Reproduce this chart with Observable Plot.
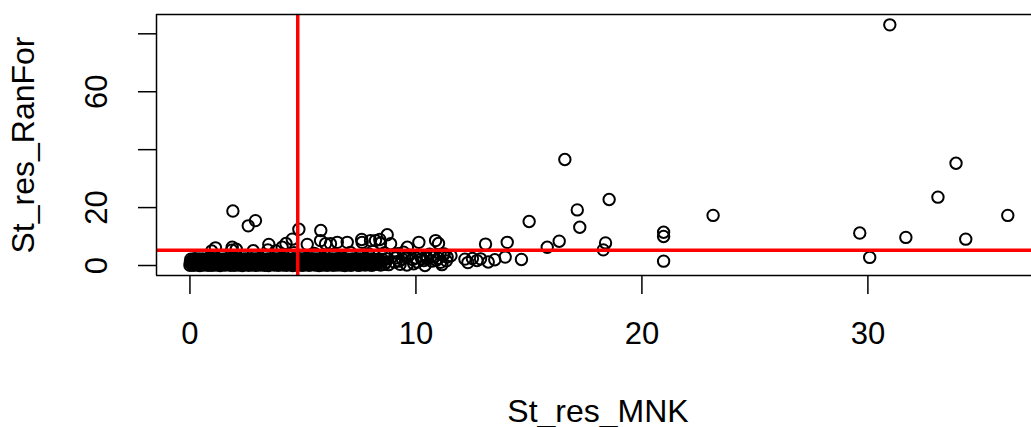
<!DOCTYPE html>
<html><head><meta charset="utf-8">
<script src="https://cdn.jsdelivr.net/npm/d3@7"></script>
<script src="https://cdn.jsdelivr.net/npm/@observablehq/plot@0.6"></script>
<style>html,body{margin:0;padding:0;background:#fff}svg{display:block}</style>
</head><body><div id="chart"></div>
<script>
const xTitle = "St_res_MNK";
const yTitle = "St_res_RanFor";
const xTicks = [0, 10, 20, 30];
const yTicks = [0, 20, 40, 60, 80];
const yTickLabels = [0, 20, 60];
const vLine = [4.77];
const hLine = [5.25];
const xDomain = [-1.48, 37.24];
const yDomain = [-3.45, 86.67];

// dense band of points near the origin (lower row)
const bandLowMNK = [
  0.00,0.08,0.17,0.25,0.36,0.44,0.53,0.61,0.72,0.80,
  0.89,0.98,1.07,1.15,1.26,1.34,1.43,1.52,1.61,1.70,
  1.79,1.88,1.96,2.05,2.15,2.23,2.32,2.41,2.50,2.59,
  2.68,2.77,2.86,2.94,3.04,3.12,3.21,3.30,3.39,3.48,
  3.57,3.66,3.75,3.84,3.92,4.02,4.11,4.19,4.28,4.37,
  4.46,4.55,4.64,4.73,4.82,4.90,5.00,5.09,5.17,5.26,
  5.35,5.44,5.53,5.62,5.71,5.80,5.88,5.97,6.06,6.15,
  6.24,6.33,6.42,6.51,6.60,6.69,6.77,6.86,6.95,7.04,
  7.13,7.22,7.31,7.40,7.49,7.58,7.67,7.75,7.84,7.93,
  8.05,8.16,8.30,8.44,8.61,8.79];
const bandLowRanFor = [
  0.10,0.30,0.05,0.40,0.20,0.00,0.35,0.15,0.50,0.10,
  0.25,0.05,0.45,0.20,0.30,0.00,0.40,0.15,0.25,0.50,
  0.10,0.35,0.05,0.30,0.20,0.45,0.00,0.25,0.40,0.10,
  0.30,0.15,0.50,0.05,0.35,0.20,0.40,0.10,0.25,0.00,
  0.45,0.30,0.15,0.35,0.05,0.50,0.20,0.30,0.10,0.40,
  0.25,0.00,0.35,0.15,0.45,0.20,0.05,0.30,0.40,0.10,
  0.25,0.50,0.15,0.35,0.00,0.30,0.20,0.45,0.10,0.25,
  0.40,0.05,0.35,0.20,0.50,0.15,0.30,0.00,0.40,0.25,
  0.10,0.35,0.45,0.20,0.05,0.30,0.50,0.15,0.40,0.25,
  0.10,0.35,0.60,0.20,0.45,0.30];

// dense band (middle row)
const bandMidMNK = [
  0.02,0.10,0.19,0.28,0.38,0.46,0.55,0.64,0.74,0.82,
  0.91,1.00,1.09,1.18,1.28,1.36,1.45,1.54,1.64,1.72,
  1.81,1.90,1.99,2.08,2.17,2.26,2.35,2.44,2.53,2.62,
  2.71,2.80,2.88,2.97,3.06,3.15,3.24,3.33,3.42,3.51,
  3.60,3.69,3.78,3.86,3.95,4.04,4.13,4.22,4.31,4.40,
  4.49,4.58,4.67,4.76,4.84,4.93,5.02,5.11,5.20,5.29,
  5.38,5.47,5.56,5.65,5.73,5.82,5.91,6.00,6.09,6.18,
  6.27,6.36,6.45,6.54,6.63,6.71,6.80,6.89,6.98,7.07,
  7.16,7.25,7.34,7.43,7.52,7.60,7.69,7.78,7.87,7.97,
  8.08,8.20,8.34,8.48,8.66];
const bandMidRanFor = [
  1.10,1.25,0.95,1.30,1.05,1.20,0.90,1.35,1.15,1.00,
  1.25,1.10,1.40,0.95,1.20,1.05,1.30,1.15,0.90,1.25,
  1.00,1.35,1.10,1.20,0.95,1.30,1.05,1.15,1.40,1.00,
  1.20,1.10,0.90,1.30,1.15,1.25,1.00,1.35,1.05,1.20,
  0.95,1.30,1.10,1.25,1.00,1.15,1.40,0.90,1.20,1.05,
  1.35,1.10,1.25,0.95,1.20,1.05,1.30,1.15,1.00,1.25,
  1.10,1.40,0.95,1.20,1.30,1.05,1.15,1.25,0.90,1.35,
  1.00,1.20,1.10,1.30,0.95,1.25,1.05,1.15,1.40,1.10,
  1.20,0.95,1.35,1.05,1.25,1.00,1.30,1.15,0.90,1.20,
  1.10,1.30,1.00,1.25,1.15];

// dense band (upper row)
const bandHighMNK = [
  0.04,0.12,0.21,0.30,0.40,0.48,0.57,0.66,0.76,0.84,
  0.93,1.02,1.11,1.20,1.30,1.38,1.47,1.56,1.66,1.74,
  1.83,1.92,2.01,2.10,2.19,2.28,2.37,2.46,2.55,2.64,
  2.73,2.82,2.90,2.99,3.08,3.17,3.26,3.35,3.44,3.53,
  3.62,3.71,3.80,3.88,3.97,4.06,4.15,4.24,4.33,4.42,
  4.51,4.60,4.69,4.78,4.86,4.95,5.04,5.13,5.22,5.31,
  5.40,5.49,5.58,5.67,5.75,5.84,5.93,6.02,6.11,6.20,
  6.29,6.38,6.47,6.56,6.65,6.73,6.82,6.91,7.00,7.09,
  7.18,7.27,7.36,7.45,7.54,7.62,7.71,7.80,7.89,7.99,
  8.10,8.24,8.37,8.52,8.70];
const bandHighRanFor = [
  2.20,1.90,2.35,2.05,2.25,1.85,2.30,2.00,2.15,2.40,
  1.95,2.25,2.10,2.35,1.90,2.20,2.05,2.30,2.15,1.85,
  2.40,2.00,2.25,2.10,2.35,1.95,2.20,2.30,2.05,2.15,
  2.35,1.90,2.25,2.00,2.40,2.10,2.20,1.95,2.30,2.15,
  2.05,2.35,1.90,2.25,2.10,2.40,2.00,2.20,2.30,1.95,
  2.15,2.35,2.05,2.25,1.90,2.30,2.10,2.40,2.00,2.20,
  2.35,1.95,2.25,2.10,2.30,2.05,2.40,1.90,2.20,2.15,
  2.30,2.00,2.25,2.35,1.95,2.15,2.40,2.05,2.20,1.90,
  2.25,2.10,2.35,2.00,2.30,1.95,2.20,2.40,2.05,2.15,
  2.30,1.90,2.25,2.10,2.35];

// scattered points
const sparseMNK = [
  30.97,33.90,33.10,36.19,29.64,31.68,34.33,30.08,16.59,18.55,
  17.14,15.01,17.25,23.15,20.96,20.96,20.96,18.39,18.29,16.34,
  15.81,14.04,14.67,13.95,13.49,13.08,12.70,12.50,12.17,11.38,
  10.87,11.00,10.13,10.40,1.90,2.90,2.58,4.82,5.79,4.53,
  8.73,7.60,8.40,10.60,6.96,3.49,1.13,1.87,5.19,6.22,
  4.08,5.78,6.00,6.52,7.62,7.99,8.21,8.43,8.88,9.62,
  9.05,9.62,9.90,10.35,10.80,11.09,9.20,9.45,11.20,12.30,
  12.86,13.20,9.30,9.40,9.70,10.00,10.20,10.50,10.90,11.25,
  11.55,0.96,1.85,2.80,3.45,3.80,4.25,5.50,6.40,7.10,
  7.90,8.60,2.05,4.60,9.10,9.25,9.50,9.60,9.85,10.05,
  10.25,10.45,10.70,11.00,11.15,11.35];
const sparseRanFor = [
  83.1,35.3,23.6,17.3,11.2,9.7,9.1,2.8,36.6,22.8,
  19.2,15.2,13.2,17.3,11.5,10.0,1.5,7.8,5.4,8.4,
  6.3,8.0,2.1,2.9,2.0,7.4,1.7,2.4,2.2,2.9,
  8.6,7.6,8.0,0.0,18.8,15.5,13.7,12.5,12.1,9.1,
  10.6,9.0,9.0,3.9,8.0,7.3,6.1,6.3,7.3,7.5,
  6.3,8.6,7.5,8.0,8.0,8.6,8.6,7.7,7.5,6.3,
  1.2,2.9,0.6,1.7,2.9,1.1,4.1,4.6,3.6,1.0,
  2.3,1.2,0.4,2.2,3.6,2.6,3.3,2.4,1.8,4.0,
  3.4,5.0,5.3,5.1,5.4,5.0,7.6,4.2,4.0,4.5,
  4.1,4.3,5.6,4.4,2.6,1.5,3.3,0.2,2.1,1.2,
  2.3,3.1,1.5,2.5,0.3,1.6];

const pairs = (xs, ys) => xs.map((x, i) => ({x, y: ys[i]}));
const points = [
  ...pairs(bandLowMNK, bandLowRanFor),
  ...pairs(bandMidMNK, bandMidRanFor),
  ...pairs(bandHighMNK, bandHighRanFor),
  ...pairs(sparseMNK, sparseRanFor)
];

const chart = Plot.plot({
  width: 1031,
  height: 427,
  marginLeft: 156,
  marginRight: 0,
  marginTop: 14,
  marginBottom: 152,
  style: {fontFamily: "'Liberation Sans', Arial, sans-serif", fontSize: "31px", background: "#fff", color: "#000"},
  x: {domain: xDomain},
  y: {domain: yDomain},
  marks: [
    Plot.dot(points, {x: "x", y: "y", r: 5.7, stroke: "#000", strokeWidth: 2, fill: "none"}),
    Plot.ruleX(vLine, {stroke: "#ff0000", strokeWidth: 3.5}),
    Plot.ruleY(hLine, {stroke: "#ff0000", strokeWidth: 3.5}),
    Plot.ruleY(yDomain, {stroke: "#000", strokeWidth: 1.5}),
    Plot.ruleX([xDomain[0]], {stroke: "#000", strokeWidth: 1.5}),
    Plot.axisX(xTicks, {tickSize: 19, tickPadding: 27, fontSize: 31, label: null, strokeWidth: 1.5}),
    Plot.axisY(yTicks, {tickSize: 18, tickRotate: -90, tickPadding: 32, fontSize: 31, label: null, strokeWidth: 1.5,
      tickFormat: d => yTickLabels.includes(d) ? String(d) : ""}),
    Plot.text([xTitle], {text: d => d, frameAnchor: "bottom", dx: 4, dy: 146, lineAnchor: "bottom", textAnchor: "middle", fontSize: 32}),
    Plot.text([yTitle], {text: d => d, frameAnchor: "left", dx: -123, rotate: -90, lineAnchor: "bottom", textAnchor: "middle", fontSize: 32})
  ]
});
document.getElementById("chart").appendChild(chart);
</script>
</body></html>
